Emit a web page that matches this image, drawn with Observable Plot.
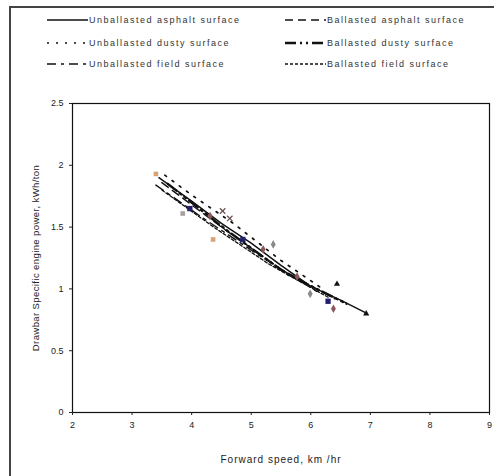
<!DOCTYPE html>
<html>
<head>
<meta charset="utf-8">
<script src="https://cdn.jsdelivr.net/npm/d3@7"></script>
<script src="https://cdn.jsdelivr.net/npm/@observablehq/plot@0.6"></script>
<style>
  html, body { margin: 0; padding: 0; background: #fff; overflow: hidden; width: 494px; height: 476px; }
  #frame { position: absolute; left: 9px; top: 6px; width: 500px; height: 490px; border: 2px solid #444; box-sizing: border-box; }
  #chart { position: absolute; left: 0; top: 0; }
  #chart svg text { font-family: "Liberation Sans", Arial, sans-serif; fill: #222; }
  .leg { position: absolute; font-family: "Liberation Sans", Arial, sans-serif; font-size: 9px; letter-spacing: 1.5px; color: #333; display: flex; align-items: center; white-space: nowrap; }
  .leg svg { display: block; margin-right: 1px; }
</style>
</head>
<body>
<div id="frame"></div>
<div id="chart"></div>
<div id="legend"></div>
<script>
// ---- data ----
const seriesNames = [
  "Unballasted asphalt surface",
  "Ballasted asphalt surface",
  "Unballasted dusty surface",
  "Ballasted dusty surface",
  "Unballasted field surface",
  "Ballasted field surface"
];
const seriesDash = ["none", "8,5", "2,7", "11,4,2,4,2,4", "9,5,3,5", "3,2"];
const seriesWidth = [1.4, 1.4, 1.7, 2.4, 1.4, 1.3];

// trend lines (forward speed km/hr, drawbar specific engine power kWh/ton)
const unballAsphaltX = [3.45, 4.0, 4.5, 5.0, 5.5, 6.0, 6.5, 6.95];
const unballAsphaltY = [1.90, 1.71, 1.53, 1.37, 1.19, 1.02, 0.91, 0.80];
const ballAsphaltX = [3.5, 4.5, 5.5, 6.4];
const ballAsphaltY = [1.86, 1.50, 1.16, 0.92];
const unballDustyX = [3.55, 4.0, 4.7, 5.5, 6.2];
const unballDustyY = [1.92, 1.76, 1.53, 1.23, 1.00];
const ballDustyX = [3.6, 4.6, 5.6, 6.6];
const ballDustyY = [1.85, 1.47, 1.12, 0.88];
const unballFieldX = [3.4, 4.2, 5.2, 6.1];
const unballFieldY = [1.84, 1.57, 1.25, 0.98];
const ballFieldX = [3.5, 4.4, 5.3, 6.3];
const ballFieldY = [1.80, 1.49, 1.20, 0.93];
const lineXs = [unballAsphaltX, ballAsphaltX, unballDustyX, ballDustyX, unballFieldX, ballFieldX];
const lineYs = [unballAsphaltY, ballAsphaltY, unballDustyY, ballDustyY, unballFieldY, ballFieldY];

// measured points
const blueSqX = [3.97, 4.86, 6.29];
const blueSqY = [1.65, 1.40, 0.90];
const tanSqX = [3.40, 4.36];
const tanSqY = [1.93, 1.40];
const graySqX = [3.85];
const graySqY = [1.61];
const brownDiaX = [4.31, 5.20, 5.77, 6.38];
const brownDiaY = [1.59, 1.32, 1.10, 0.84];
const grayDiaX = [5.37, 5.99];
const grayDiaY = [1.36, 0.96];
const brownCrossX = [4.52, 4.64];
const brownCrossY = [1.63, 1.57];
const blackTriX = [6.44, 6.93];
const blackTriY = [1.04, 0.80];

const xTicks = [2, 3, 4, 5, 6, 7, 8, 9];
const yTicks = [0, 0.5, 1, 1.5, 2, 2.5];

// ---- build ----
const zip = (xs, ys) => xs.map((x, i) => ({x, y: ys[i]}));

const marks = [Plot.frame({stroke: "#111", strokeWidth: 1.2})];
lineXs.forEach((xs, i) => {
  marks.push(Plot.line(zip(xs, lineYs[i]), {
    x: "x", y: "y", stroke: "#111",
    strokeWidth: seriesWidth[i],
    strokeDasharray: seriesDash[i] === "none" ? null : seriesDash[i]
  }));
});
marks.push(
  Plot.dot(zip(tanSqX, tanSqY), {x: "x", y: "y", symbol: "square", fill: "#d6a477", r: 2.6}),
  Plot.dot(zip(graySqX, graySqY), {x: "x", y: "y", symbol: "square", fill: "#a8a0a0", r: 2.6}),
  Plot.dot(zip(blueSqX, blueSqY), {x: "x", y: "y", symbol: "square", fill: "#23206e", r: 3}),
  Plot.dot(zip(brownDiaX, brownDiaY), {x: "x", y: "y", symbol: "diamond", fill: "#8c5a5c", r: 2.6}),
  Plot.dot(zip(grayDiaX, grayDiaY), {x: "x", y: "y", symbol: "diamond", fill: "#8a8a8a", r: 2.6}),
  Plot.dot(zip(brownCrossX, brownCrossY), {x: "x", y: "y", symbol: "times", stroke: "#6a5050", r: 2.6, strokeWidth: 1.2}),
  Plot.dot(zip(blackTriX, blackTriY), {x: "x", y: "y", symbol: "triangle", fill: "#111", r: 2.3})
);
marks.push(
  Plot.axisX({ticks: xTicks, tickSize: 3, tickFormat: d => String(d), fontSize: 9,
    label: "Forward speed, km /hr", labelAnchor: "center", labelOffset: 50, labelArrow: "none"}),
  Plot.axisY({ticks: yTicks, tickSize: 3, tickFormat: d => String(d), fontSize: 9,
    label: "Drawbar Specific engine power, kWh/ton", labelAnchor: "center", labelOffset: 40, labelArrow: "none"})
);

const chart = Plot.plot({
  width: 494,
  height: 476,
  marginTop: 103,
  marginLeft: 72,
  marginRight: 5,
  marginBottom: 64,
  x: {domain: [2, 9]},
  y: {domain: [0, 2.5]},
  style: {fontFamily: "Liberation Sans, Arial, sans-serif", fontSize: "9px", color: "#222", background: "transparent"},
  marks
});
document.getElementById("chart").appendChild(chart);
d3.select(chart).selectAll("[aria-label='x-axis label'] text").style("font-size", "10px").style("letter-spacing", "1px");
d3.select(chart).selectAll("[aria-label='y-axis label'] text").style("font-size", "9.5px").style("letter-spacing", "0.4px");

// ---- legend ----
const legendCols = [47, 285];
const legendRows = [20, 43, 64];
const legend = document.getElementById("legend");
seriesNames.forEach((name, i) => {
  const col = i % 2, row = Math.floor(i / 2);
  const div = document.createElement("div");
  div.className = "leg";
  div.style.left = legendCols[col] + "px";
  div.style.top = (legendRows[row] - 6) + "px";
  div.style.height = "12px";
  const svg = d3.create("svg").attr("width", 41).attr("height", 12);
  svg.append("line").attr("x1", 0).attr("x2", 41).attr("y1", 6).attr("y2", 6)
    .attr("stroke", "#111").attr("stroke-width", seriesWidth[i])
    .attr("stroke-dasharray", seriesDash[i] === "none" ? null : seriesDash[i]);
  div.appendChild(svg.node());
  const span = document.createElement("span");
  span.textContent = name;
  div.appendChild(span);
  legend.appendChild(div);
});
</script>
</body>
</html>
